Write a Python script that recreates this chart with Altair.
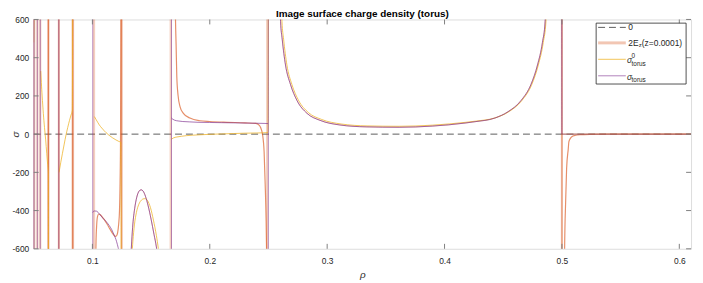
import altair as alt
import pandas as pd

# ---------------- data ----------------
X_DOMAIN = [0.05, 0.61]
Y_DOMAIN = [-600, 600]
X_TICKS = [0.1, 0.2, 0.3, 0.4, 0.5, 0.6]
Y_TICKS = [-600, -400, -200, 0, 200, 400, 600]

ZERO_X = [0.05, 0.61]
ZERO_Y = [0, 0]

# 2E_z (z=0.0001)
O_A_X = [0.1027, 0.1031, 0.1037, 0.1045, 0.1055, 0.1065, 0.1080, 0.1100, 0.1125, 0.1150, 0.1175, 0.1195, 0.1205, 0.1215, 0.1224, 0.1231, 0.1236, 0.1240, 0.1243]
O_A_Y = [-700, -560, -470, -428, -418, -420, -430, -446, -470, -497, -522, -535, -532, -515, -470, -400, -250, 0, 700]
O_C_X = [0.1705, 0.1708, 0.1713, 0.1719, 0.1730, 0.1747, 0.1775, 0.1831, 0.1916, 0.2000, 0.2150, 0.2300, 0.2392, 0.2420, 0.2434, 0.2449, 0.2463, 0.2472, 0.2480, 0.2486]
O_C_Y = [750, 600, 472, 303, 202, 143, 109, 84, 70, 66, 62, 59, 56, 47, 33, 0, -94, -261, -450, -700]
O_E_X = [0.5021, 0.5023, 0.5032, 0.5040, 0.5054, 0.5059, 0.5072, 0.5087, 0.5110, 0.5158, 0.5242, 0.5400, 0.6100]
O_E_Y = [-750, -600, -347, -178, -77, -41, -22, -12, -7, -3, -1, 0, 0]
ORANGE_SPIKES_LIGHT = [0.0505, 0.0531, 0.0556, 0.0625, 0.0714, 0.0831, 0.0835, 0.1014, 0.1250, 0.1667, 0.2489, 0.5000]
ORANGE_SPIKES_DARK = [0.0623, 0.0627, 0.0714, 0.0832, 0.1249, 0.5000]

# sigma_torus
P_A_X = [0.1003, 0.1015, 0.1035, 0.1060, 0.1090, 0.1115, 0.1143, 0.1165, 0.1185, 0.1200, 0.1213, 0.1225, 0.1235]
P_A_Y = [-410, -402, -403, -418, -440, -456, -478, -500, -528, -550, -578, -610, -650]
P_B_X = [0.1328, 0.1335, 0.1345, 0.1360, 0.1378, 0.1398, 0.1415, 0.1432, 0.1452, 0.1475, 0.1500, 0.1525, 0.1545, 0.1556]
P_B_Y = [-640, -560, -470, -390, -330, -298, -291, -298, -325, -375, -445, -525, -590, -640]
P_C_X = [0.1674, 0.1685, 0.1700, 0.1730, 0.1770, 0.1830, 0.1900, 0.2000, 0.2100, 0.2200, 0.2300, 0.2400, 0.2470, 0.2497]
P_C_Y = [84, 78, 73, 69, 66, 64, 62, 61, 60, 59, 58, 57, 56, 55]
P_D_X = [0.2596, 0.2603, 0.2617, 0.2645, 0.2687, 0.2743, 0.2828, 0.2940, 0.3108, 0.3333, 0.3613, 0.3895, 0.4175, 0.4259, 0.4428, 0.4540, 0.4652, 0.4737, 0.4792, 0.4834, 0.4857, 0.4866]
P_D_Y = [750, 590, 497, 362, 261, 176, 109, 72, 48, 38, 36, 42, 58, 65, 84, 117, 176, 261, 362, 480, 590, 750]
P_E_X = [0.4999, 0.5000, 0.6100]
P_E_Y = [700, 0, 0]
PURPLE_SPIKES = [0.0502, 0.0531, 0.0556, 0.0714, 0.1003, 0.1674, 0.2499]

# sigma^0_torus
Y_A_X = [0.0500, 0.0504]
Y_A_Y = [480, 700]
Y_B_X = [0.0560, 0.0565, 0.0572, 0.0582, 0.0592, 0.0602, 0.0611, 0.0619, 0.0624, 0.0626]
Y_B_Y = [330, 270, 200, 109, 35, -30, -100, -160, -200, -700]
Y_C_X = [0.0716, 0.0730, 0.0745, 0.0760, 0.0775, 0.0790, 0.0805, 0.0818, 0.0829, 0.0832]
Y_C_Y = [-200, -150, -100, -52, -5, 35, 72, 100, 125, 700]
Y_D_X = [0.1017, 0.1030, 0.1045, 0.1059, 0.1080, 0.1100, 0.1116, 0.1140, 0.1171, 0.1200, 0.1225, 0.1242, 0.1245]
Y_D_Y = [92, 78, 62, 48, 32, 18, 8, -5, -19, -30, -38, -43, -700]
Y_E_X = [0.1336, 0.1345, 0.1358, 0.1375, 0.1395, 0.1418, 0.1440, 0.1452, 0.1470, 0.1495, 0.1520, 0.1545, 0.1562, 0.1570]
Y_E_Y = [-640, -560, -475, -410, -368, -345, -338, -338, -348, -385, -450, -530, -600, -640]
Y_F_X = [0.1674, 0.1690, 0.1720, 0.1760, 0.1800, 0.1900, 0.2000, 0.2100, 0.2200, 0.2300, 0.2400, 0.2496, 0.2499]
Y_F_Y = [-26, -20, -15, -11, -8, -4, -1, 1, 3, 5, 6, 8, 700]
Y_G_X = [0.2608, 0.2615, 0.2629, 0.2657, 0.2699, 0.2755, 0.2840, 0.2952, 0.3120, 0.3340, 0.3613, 0.3899, 0.4182, 0.4266, 0.4435, 0.4547, 0.4659, 0.4744, 0.4799, 0.4841, 0.4864, 0.4873]
Y_G_Y = [750, 590, 497, 362, 261, 178, 113, 77, 53, 43, 41, 47, 62, 68, 86, 117, 176, 261, 362, 480, 590, 750]
Y_H_X = [0.5000, 0.6100]
Y_H_Y = [0, 0]

TITLE = "Image surface charge density (torus)"
X_TITLE = "ρ"
Y_TITLE = "σ"

# ---------------- styling ----------------
W, H = 665, 232
FONT = "Liberation Sans"
FRAME = "#808080"
TXT = "#262626"
ORANGE = "#D95319"
YELLOW = "#EDB120"
PURPLE = "#7E2F8E"

xs = alt.Scale(domain=X_DOMAIN, nice=False, zero=False)
ys = alt.Scale(domain=Y_DOMAIN, nice=False, zero=False)

X_AXIS = alt.Axis(values=X_TICKS, labelExpr="'' + datum.value", ticks=False, tickSize=0,
                  domain=False, grid=False, labelFont=FONT, labelFontSize=8.5, labelColor=TXT,
                  labelPadding=8, labelFlush=False, title=X_TITLE, titleFont=FONT,
                  titleFontSize=10, titleFontStyle="italic", titleFontWeight="normal",
                  titleColor=TXT, titleY=29, titleBaseline="alphabetic")
Y_AXIS = alt.Axis(values=Y_TICKS, labelExpr="'' + datum.value", ticks=False, tickSize=0,
                  domain=False, grid=False, labelFont=FONT, labelFontSize=8.5, labelColor=TXT,
                  labelPadding=5, labelFlush=False, title=Y_TITLE, titleFont=FONT,
                  titleFontSize=10, titleFontStyle="italic", titleFontWeight="normal",
                  titleColor=TXT, titleX=-18, titleY=H / 2, titleBaseline="middle")


def X():
    return alt.X("x:Q", scale=xs, axis=X_AXIS)


def Y():
    return alt.Y("y:Q", scale=ys, axis=Y_AXIS)


def segs(prefix, pairs):
    frames = []
    for k, (xv, yv) in enumerate(pairs):
        frames.append(pd.DataFrame({"x": xv, "y": yv, "seg": f"{prefix}{k}",
                                    "i": list(range(len(xv)))}))
    return pd.concat(frames, ignore_index=True)


def curves(df, color, width, opacity, dash=None, interp="monotone"):
    mk = dict(color=color, strokeWidth=width, opacity=opacity, clip=True, interpolate=interp)
    if dash:
        mk["strokeDash"] = dash
    return alt.Chart(df).mark_line(**mk).encode(x=X(), y=Y(), detail="seg:N", order="i:Q")


def spikes(xv, color, width, opacity):
    return alt.Chart(pd.DataFrame({"x": xv})).mark_rule(
        color=color, strokeWidth=width, opacity=opacity).encode(
        x=X(), y=alt.value(0), y2=alt.value(H))


one = pd.DataFrame({"k": [0]})


def ltext(txt, x, y, size, italic=False, bold=False, align="left", baseline="middle", color=TXT):
    return alt.Chart(one).mark_text(align=align, baseline=baseline, font=FONT, fontSize=size,
                                    color=color, fontStyle="italic" if italic else "normal",
                                    fontWeight="bold" if bold else "normal").encode(
        x=alt.value(x), y=alt.value(y), text=alt.value(txt))


def lrule(y, color, width, opacity, dash=None):
    mk = dict(color=color, strokeWidth=width, opacity=opacity)
    if dash:
        mk["strokeDash"] = dash
    return alt.Chart(one).mark_rule(**mk).encode(x=alt.value(571), x2=alt.value(599), y=alt.value(y))


zero = curves(pd.DataFrame({"x": ZERO_X, "y": ZERO_Y, "seg": "z", "i": [0, 1]}),
              "#404040", 1, 0.85, dash=[7, 4], interp="linear")

orange_vis_df = segs("o", [(O_A_X, O_A_Y), (O_C_X, O_C_Y), (O_E_X, O_E_Y)])
orange_under_df = segs("u", [(P_B_X, P_B_Y), (P_D_X, P_D_Y)])
yellow_df = segs("y", [(Y_A_X, Y_A_Y), (Y_B_X, Y_B_Y), (Y_C_X, Y_C_Y), (Y_D_X, Y_D_Y),
                       (Y_E_X, Y_E_Y), (Y_F_X, Y_F_Y), (Y_G_X, Y_G_Y), (Y_H_X, Y_H_Y)])
purple_df = segs("p", [(P_A_X, P_A_Y), (P_B_X, P_B_Y), (P_C_X, P_C_Y), (P_D_X, P_D_Y), (P_E_X, P_E_Y)])

layers = [
    zero,
    spikes(ORANGE_SPIKES_LIGHT, ORANGE, 2.2, 0.28),
    spikes(ORANGE_SPIKES_DARK, ORANGE, 1, 0.55),
    curves(orange_under_df, ORANGE, 1, 0.35),
    curves(orange_vis_df, ORANGE, 1.2, 0.65),
    curves(yellow_df, YELLOW, 1, 0.75),
    spikes(PURPLE_SPIKES, PURPLE, 1, 0.55),
    curves(purple_df, PURPLE, 1, 0.68),
    # inward ticks on all four sides
    alt.Chart(pd.DataFrame({"x": X_TICKS})).mark_rule(color=FRAME).encode(x=X(), y=alt.value(H), y2=alt.value(H - 5)),
    alt.Chart(pd.DataFrame({"x": X_TICKS})).mark_rule(color=FRAME).encode(x=X(), y=alt.value(0), y2=alt.value(5)),
    alt.Chart(pd.DataFrame({"y": Y_TICKS})).mark_rule(color=FRAME).encode(y=Y(), x=alt.value(0), x2=alt.value(5)),
    alt.Chart(pd.DataFrame({"y": Y_TICKS})).mark_rule(color=FRAME).encode(y=Y(), x=alt.value(W - 5), x2=alt.value(W)),
    # title
    ltext(TITLE, W / 2, -2.5, 10, bold=True, align="center", baseline="alphabetic", color="#000000"),
    # legend
    alt.Chart(one).mark_rect(fill="white", stroke="#262626", strokeWidth=0.8).encode(
        x=alt.value(569), x2=alt.value(660), y=alt.value(3.7), y2=alt.value(65.3)),
    lrule(8, "#404040", 1, 0.85, dash=[7, 4]),
    lrule(23.7, ORANGE, 3, 0.33),
    lrule(40.3, YELLOW, 1, 0.75),
    lrule(57, PURPLE, 1, 0.6),
    ltext("0", 601.5, 8, 8.5),
    ltext("2E", 601.5, 23.7, 8.5),
    ltext("z", 612, 26.2, 6),
    ltext("(z=0.0001)", 615.2, 23.7, 8.5),
    ltext("σ", 600.3, 41.3, 8.5, italic=True),
    ltext("0", 604.8, 37.0, 6.5),
    ltext("torus", 604.8, 44.8, 6.5),
    ltext("σ", 600.3, 57.8, 8.5, italic=True),
    ltext("torus", 604.8, 61.2, 6.5),
]

chart = alt.layer(*layers).properties(
    width=W, height=H,
    padding={"left": 26, "top": 10, "right": 4, "bottom": 33},
    autosize=alt.AutoSizeParams(type="none"),
).configure_view(stroke=FRAME, strokeWidth=1).configure(background="white")

chart.save("out.html", embed_options={"renderer": "svg", "actions": False})
